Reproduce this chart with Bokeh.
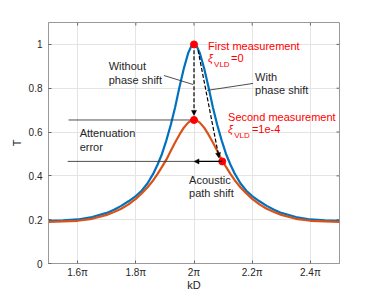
from bokeh.plotting import figure
from bokeh.models import Range1d, FixedTicker, Arrow, NormalHead
from bokeh.core.properties import value
from bokeh.embed import file_html
from bokeh.resources import INLINE

# ---- data (kD in units of pi) ----
kd_pi = [1.500, 1.550, 1.600, 1.650, 1.700, 1.725, 1.750, 1.775, 1.800, 1.820, 1.840,
         1.860, 1.875, 1.890, 1.905, 1.920, 1.935, 1.950, 1.965, 1.980, 1.990, 2.000,
         2.010, 2.020, 2.035, 2.050, 2.065, 2.080, 2.095, 2.110, 2.125, 2.140, 2.160,
         2.180, 2.200, 2.225, 2.250, 2.275, 2.300, 2.350, 2.400, 2.450, 2.500]
t_first = [0.195, 0.197, 0.201, 0.212, 0.231, 0.245, 0.263, 0.284, 0.308, 0.332, 0.365,
           0.410, 0.452, 0.500, 0.562, 0.632, 0.712, 0.805, 0.890, 0.960, 0.990, 1.000,
           0.990, 0.960, 0.890, 0.805, 0.712, 0.632, 0.562, 0.500, 0.452, 0.410, 0.365,
           0.332, 0.308, 0.284, 0.263, 0.245, 0.231, 0.212, 0.201, 0.197, 0.195]
t_second = [0.190, 0.192, 0.195, 0.204, 0.222, 0.235, 0.250, 0.270, 0.295, 0.320, 0.347,
            0.380, 0.409, 0.441, 0.474, 0.513, 0.552, 0.588, 0.620, 0.643, 0.652, 0.655,
            0.652, 0.643, 0.620, 0.588, 0.552, 0.513, 0.474, 0.441, 0.409, 0.380, 0.347,
            0.320, 0.295, 0.270, 0.250, 0.235, 0.222, 0.204, 0.195, 0.192, 0.190]

marker_x = [2.0, 2.0, 2.097]
marker_y = [1.0, 0.655, 0.466]

x_lim = [1.5, 2.5]
y_lim = [0.0, 1.1]
x_ticks = [1.6, 1.8, 2.0, 2.2, 2.4]
x_tick_labels = ["1.6π", "1.8π", "2π", "2.2π", "2.4π"]
y_ticks = [0, 0.2, 0.4, 0.6, 0.8, 1.0]
y_tick_labels = ["0", "0.2", "0.4", "0.6", "0.8", "1"]

# thin annotation lines (reference levels and leader lines)
seg_x0 = [1.569, 1.566, 1.897, 2.045]
seg_y0 = [0.655, 0.466, 0.858, 0.790]
seg_x1 = [2.000, 2.000, 1.997, 2.203]
seg_y1 = [0.655, 0.466, 0.817, 0.822]

# arrows: vertical dashed, diagonal dashed, acoustic path shift
arr_x0 = [2.000, 2.014, 2.097]
arr_y0 = [0.973, 0.973, 0.466]
arr_x1 = [2.000, 2.086, 2.000]
arr_y1 = [0.676, 0.482, 0.466]
arr_dash = ["4 2", "4 2", "solid"]

# black annotation texts
txt_x = [1.707, 1.707, 2.210, 2.210, 1.607, 1.607, 1.983, 1.983]
txt_y = [0.900, 0.836, 0.849, 0.790, 0.594, 0.534, 0.379, 0.322]
txt_s = ["Without", "phase shift", "With", "phase shift", "Attenuation", "error",
         "Acoustic", "path shift"]

# red texts
red_x = [2.048, 2.127, 2.117, 2.199]
red_y = [0.995, 0.936, 0.667, 0.612]
red_s = ["First measurement", "=0", "Second measurement", "=1e-4"]
xi_x = [2.048, 2.117]
xi_y = [0.936, 0.612]
sub_x = [2.069, 2.138]
sub_y = [0.909, 0.585]

FONT = "Liberation Sans"
BLUE = "#0072BD"
ORANGE = "#D95319"
AX = "#999999"
TICK = "#666666"

p = figure(width=366, height=296, output_backend="svg", toolbar_location=None,
           x_range=Range1d(*x_lim), y_range=Range1d(*y_lim),
           min_border_left=48, min_border_right=27, min_border_top=22, min_border_bottom=33)
p.background_fill_color = "white"
p.border_fill_color = "white"
p.outline_line_color = AX

p.xaxis.ticker = FixedTicker(ticks=x_ticks)
p.xaxis.major_label_overrides = dict(zip(x_ticks, x_tick_labels))
p.yaxis.ticker = FixedTicker(ticks=y_ticks)
p.yaxis.major_label_overrides = dict(zip(y_ticks, y_tick_labels))
p.xaxis.axis_label = "kD"
p.yaxis.axis_label = "T"
for ax in (p.xaxis[0], p.yaxis[0]):
    ax.major_tick_in = 3
    ax.major_tick_out = 0
    ax.minor_tick_in = 0
    ax.minor_tick_out = 0
    ax.axis_line_color = AX
    ax.major_tick_line_color = TICK
    ax.major_label_text_font = FONT
    ax.major_label_text_font_size = "10px"
    ax.major_label_text_color = "#262626"
    ax.axis_label_text_font = FONT
    ax.axis_label_text_font_size = "11px"
    ax.axis_label_text_font_style = "normal"
    ax.axis_label_text_color = "#262626"
p.xaxis.major_label_standoff = 3
p.xaxis.axis_label_standoff = -2
p.yaxis.major_label_standoff = 6
p.yaxis.axis_label_standoff = 3

p.xgrid.ticker = FixedTicker(ticks=x_ticks)
p.ygrid.ticker = FixedTicker(ticks=y_ticks)
p.grid.grid_line_color = "#e4e4e4"

# inward ticks on the top and right edges of the box
tick_len_y = 0.0137   # ~3 px in y data units
tick_len_x = 0.0103   # ~3 px in x data units
p.segment(x_ticks, [y_lim[1]] * len(x_ticks), x_ticks, [y_lim[1] - tick_len_y] * len(x_ticks),
          line_color=TICK, line_width=1)
p.segment([x_lim[1]] * len(y_ticks), y_ticks, [x_lim[1] - tick_len_x] * len(y_ticks), y_ticks,
          line_color=TICK, line_width=1)

p.line(kd_pi, t_first, line_color=BLUE, line_width=2.2, line_join="round")
p.line(kd_pi, t_second, line_color=ORANGE, line_width=2.2, line_join="round")

p.segment(seg_x0, seg_y0, seg_x1, seg_y1, line_color="#3a3a3a", line_width=0.9)

for x0, y0, x1, y1, d in zip(arr_x0, arr_y0, arr_x1, arr_y1, arr_dash):
    p.add_layout(Arrow(end=NormalHead(size=5, fill_color="black", line_color="black", line_width=0.5),
                       x_start=x0, y_start=y0, x_end=x1, y_end=y1,
                       line_color="black", line_width=1.2, line_dash=d))

p.scatter(marker_x, marker_y, size=7, fill_color="#FF0000", line_color="#FF0000")

p.text(txt_x, txt_y, text=txt_s, text_font=value(FONT), text_font_size="11px",
       text_baseline="middle", text_align="left", text_color="#262626")
p.text(red_x, red_y, text=red_s, text_font=value(FONT), text_font_size="11px",
       text_baseline="middle", text_align="left", text_color="#FF0000")
p.text(xi_x, xi_y, text=["ξ", "ξ"], text_font=value(FONT), text_font_size="11px",
       text_font_style="italic", text_baseline="middle", text_align="left", text_color="#FF0000")
p.text(sub_x, sub_y, text=["VLD", "VLD"], text_font=value(FONT), text_font_size="8px",
       text_baseline="middle", text_align="left", text_color="#FF0000")

open("out.html", "w").write(file_html(p, INLINE))
